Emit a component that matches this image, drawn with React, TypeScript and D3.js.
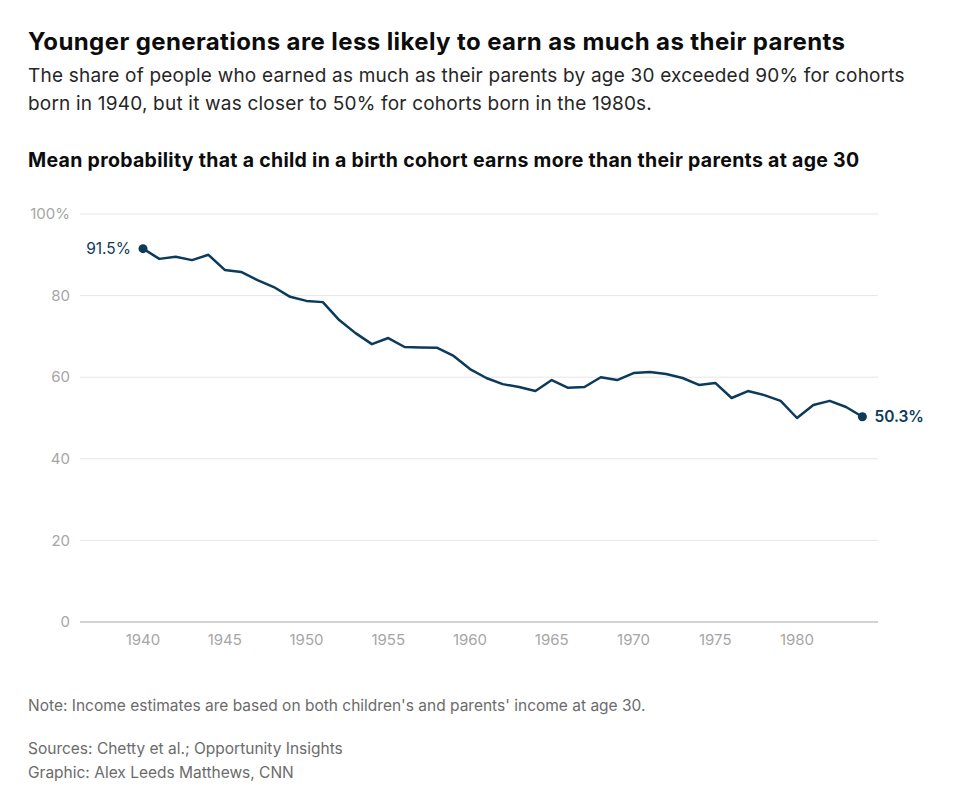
import React from "react";
import * as d3 from "d3";

const years = d3.range(1940, 1985);
const values = [
  91.5, 89.0, 89.5, 88.7, 90.0, 86.3, 85.8, 83.8, 82.1, 79.7,
  78.7, 78.4, 74.0, 70.8, 68.1, 69.6, 67.4, 67.3, 67.2, 65.2,
  62.0, 59.8, 58.3, 57.6, 56.6, 59.3, 57.4, 57.6, 60.0, 59.3,
  61.0, 61.3, 60.8, 59.8, 58.1, 58.6, 54.9, 56.6, 55.6, 54.2,
  50.0, 53.2, 54.2, 52.7, 50.3,
];
const yTicks = [0, 20, 40, 60, 80, 100];
const xTicks = [1940, 1945, 1950, 1955, 1960, 1965, 1970, 1975, 1980];

const FONT = "Inter, Roboto, 'Noto Sans', sans-serif";
const LINE = "#0c3a5b";

export default function App() {
  const width = 961;
  const height = 800;
  const plot = { left: 80, right: 878, top: 214, bottom: 622 };

  const x = d3.scaleLinear().domain([1940, 1980]).range([143, 797]);
  const y = d3.scaleLinear().domain([0, 100]).range([plot.bottom, plot.top]);

  const data = years.map((yr, i) => ({ yr, v: values[i] }));
  const line = d3
    .line<{ yr: number; v: number }>()
    .x((d) => x(d.yr))
    .y((d) => y(d.v));

  const first = data[0];
  const last = data[data.length - 1];

  return (
    <svg
      width={width}
      height={height}
      style={{ position: "absolute", left: 0, top: 0, background: "#fff" }}
      fontFamily={FONT}
    >
      <text x={28} y={50} fontSize={24} fontWeight={700} fill="#0c0c0c" letterSpacing={0.4}>
        Younger generations are less likely to earn as much as their parents
      </text>
      <text x={28} y={82} fontSize={19} fill="#262626" letterSpacing={0.2}>
        The share of people who earned as much as their parents by age 30 exceeded 90% for cohorts
      </text>
      <text x={28} y={110} fontSize={19} fill="#262626" letterSpacing={0.2}>
        born in 1940, but it was closer to 50% for cohorts born in the 1980s.
      </text>
      <text x={28} y={167} fontSize={19.5} fontWeight={700} fill="#0c0c0c" letterSpacing={0.3}>
        Mean probability that a child in a birth cohort earns more than their parents at age 30
      </text>

      {yTicks.map((t) => (
        <g key={t}>
          <line
            x1={plot.left}
            x2={plot.right}
            y1={y(t)}
            y2={y(t)}
            stroke={t === 0 ? "#a6a6a6" : "#e6e6e6"}
            strokeWidth={1}
          />
          <text
            x={70}
            y={y(t)}
            dy="0.35em"
            textAnchor="end"
            fontSize={15}
            fill="#a6a6a6"
          >
            {t === 100 ? "100%" : t}
          </text>
        </g>
      ))}

      {xTicks.map((t) => (
        <text key={t} x={x(t)} y={645} textAnchor="middle" fontSize={15} fill="#a6a6a6">
          {t}
        </text>
      ))}

      <path d={line(data) ?? ""} fill="none" stroke={LINE} strokeWidth={2.5} strokeLinejoin="round" />

      <circle cx={x(first.yr)} cy={y(first.v)} r={4.5} fill={LINE} />
      <text x={x(first.yr) - 12} y={y(first.v)} dy="0.35em" textAnchor="end" fontSize={15.5} fill={LINE}>
        {first.v.toFixed(1)}%
      </text>
      <circle cx={x(last.yr)} cy={y(last.v)} r={4.5} fill={LINE} />
      <text x={x(last.yr) + 12} y={y(last.v)} dy="0.35em" fontSize={15.5} fontWeight={600} fill={LINE}>
        {last.v.toFixed(1)}%
      </text>

      <text x={28} y={711} fontSize={15.5} fill="#6b6b6b">
        Note: Income estimates are based on both children's and parents' income at age 30.
      </text>
      <text x={28} y={754} fontSize={15.5} fill="#6b6b6b">
        Sources: Chetty et al.; Opportunity Insights
      </text>
      <text x={28} y={778} fontSize={15.5} fill="#6b6b6b">
        Graphic: Alex Leeds Matthews, CNN
      </text>
    </svg>
  );
}
